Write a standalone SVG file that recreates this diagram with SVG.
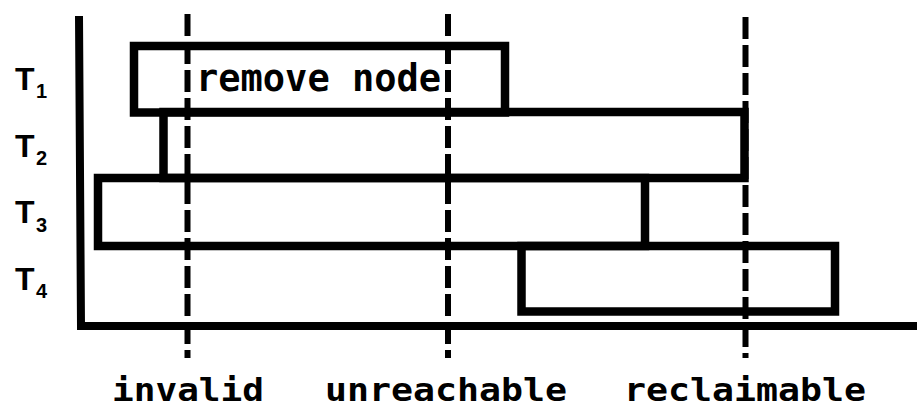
<svg xmlns="http://www.w3.org/2000/svg" width="917" height="409" viewBox="0 0 917 409">
<style>
.box{fill:none;stroke:#000;stroke-width:8.5;stroke-linejoin:miter}
.axis{fill:none;stroke:#000;stroke-width:8}
.dash{stroke:#000;stroke-width:6;stroke-dasharray:22 6}
.tl{font-family:"Liberation Sans",Arial,sans-serif;font-weight:bold;fill:#000}
.mono{font-family:"DejaVu Sans Mono",monospace;font-weight:bold;fill:#000}
</style>
<rect width="917" height="409" fill="#fff"/>
<g id="axes">
<path class="axis" d="M79,16 L81,326 L917,326"/>
</g>
<g id="thread-labels">
<g id="label-T1"><text class="tl" x="15" y="90" font-size="32">T</text><text class="tl" x="36" y="98" font-size="20">1</text></g>
<g id="label-T2"><text class="tl" x="15" y="157" font-size="32">T</text><text class="tl" x="36" y="165" font-size="20">2</text></g>
<g id="label-T3"><text class="tl" x="15" y="223" font-size="32">T</text><text class="tl" x="36" y="232" font-size="20">3</text></g>
<g id="label-T4"><text class="tl" x="15" y="290" font-size="32">T</text><text class="tl" x="36" y="298" font-size="20">4</text></g>
</g>
<g id="T1"><rect class="box" x="134" y="46" width="371" height="66.5"/></g>
<g id="T2"><rect class="box" x="163.5" y="112" width="581" height="66"/></g>
<g id="T3"><rect class="box" x="98" y="178" width="547" height="68"/></g>
<g id="T4"><rect class="box" x="521.5" y="246" width="313.5" height="65.5"/></g>
<g id="connectors">
<line class="dash" x1="187.5" y1="14" x2="187.5" y2="358"/>
<line class="dash" x1="448" y1="14" x2="448" y2="358"/>
<line class="dash" x1="745.5" y1="17" x2="745.5" y2="358"/>
</g>
<g id="remove-node-label"><text class="mono" x="196" y="91" font-size="37">remove node</text></g>
<g id="phase-labels">
<text class="mono" x="188" y="401" font-size="32" text-anchor="middle" textLength="152" lengthAdjust="spacingAndGlyphs">invalid</text>
<text class="mono" x="446" y="401" font-size="32" text-anchor="middle" textLength="242" lengthAdjust="spacingAndGlyphs">unreachable</text>
<text class="mono" x="745" y="401" font-size="32" text-anchor="middle" textLength="242" lengthAdjust="spacingAndGlyphs">reclaimable</text>
</g>
</svg>
